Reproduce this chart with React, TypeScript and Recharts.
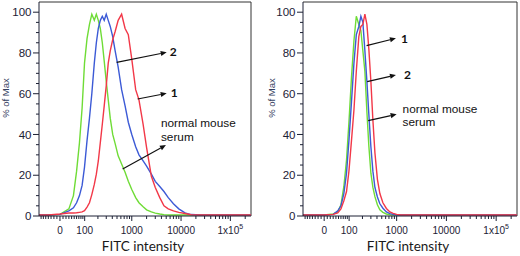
import React from "react";
import { LineChart, Line, XAxis, YAxis, ReferenceLine, Label } from "recharts";

// FITC intensity at the centre of each histogram bin (shared by both panels)
const INTENSITY = [
  -80, -40, 0, 30, 47, 60, 73, 86, 99, 114, 130, 147, 167, 185, 204, 225, 248, 272, 300, 330, 363, 408,
  458, 528, 621, 731, 850, 1000, 1200, 1400, 1700, 2000, 2500, 3000, 3700, 4500, 5500, 7000, 9000,
  12000, 16000, 25000, 60000, 262144,
];

// left panel, % of Max
const LEFT_NORMAL = [
  0.5, 0.5, 0.8, 3.5, 10, 22, 36, 53, 75, 87, 94, 99, 96, 99, 96, 92, 85, 76, 66, 57, 48, 40, 35.5, 29.5,
  25.5, 21.5, 17, 13, 9, 6.5, 4.5, 3, 2, 1.4, 1, 0.7, 0.5, 0.5, 0.5, 0.5, 0.5, 0.5, 0.5, 0.5,
];
const LEFT_SERUM_2 = [
  0.5, 0.5, 0.8, 2.5, 4, 6.5, 10, 15, 24, 37, 48, 60, 75, 85, 92, 96, 98, 96, 99, 96, 93, 88, 81, 73, 62,
  54, 46, 40, 34, 30, 27, 24.5, 20.5, 17, 14.5, 12, 9, 6, 3.5, 1.5, 0.7, 0.5, 0.5, 0.5,
];
const LEFT_SERUM_1 = [
  0.5, 0.5, 1, 1.5, 1.5, 1.6, 1.8, 2, 2.6, 4.4, 6.5, 10.5, 15.5, 20.5, 27, 36, 45, 54, 64, 75, 81, 86.5,
  90.5, 96, 99, 92, 89, 77, 62, 57, 45, 33.5, 19.5, 14, 9, 5, 3.5, 2.5, 1.8, 1.2, 0.6, 0.5, 0.5, 0.5,
];

// right panel, % of Max
const RIGHT_NORMAL = [
  0.5, 0.5, 0.5, 1, 2, 5.5, 14.5, 27.5, 46, 68, 86, 98, 94, 91, 81, 71, 51, 34.5, 21, 14, 9.5, 5.5, 3,
  1.8, 1, 0.6, 0.5, 0.5, 0.5, 0.5, 0.5, 0.5, 0.5, 0.5, 0.5, 0.5, 0.5, 0.5, 0.5, 0.5, 0.5, 0.5, 0.5, 0.5,
];
const RIGHT_SERUM_2 = [
  0.5, 0.5, 0.5, 0.8, 2.5, 5, 11, 21, 37, 56, 75, 89, 93, 98, 95, 81, 66, 50, 34, 22, 14, 9.3, 6, 3.8, 2,
  1.2, 0.8, 0.5, 0.5, 0.5, 0.5, 0.5, 0.5, 0.5, 0.5, 0.5, 0.5, 0.5, 0.5, 0.5, 0.5, 0.5, 0.5, 0.5,
];
const RIGHT_SERUM_1 = [
  0.5, 0.5, 0.5, 0.8, 1.5, 3.5, 7.5, 12, 22, 37, 52, 71, 88, 93, 94, 99, 94, 82, 66, 47, 31, 18, 11, 6.5,
  3.7, 2, 1.3, 0.8, 0.5, 0.5, 0.5, 0.5, 0.5, 0.5, 0.5, 0.5, 0.5, 0.5, 0.5, 0.5, 0.5, 0.5, 0.5, 0.5,
];

const X_MIN = -80;
const X_MAX = 262144;
const X_MAJOR = [0, 100, 1000, 10000, 100000];
const X_LABELS = ["0", "100", "1000", "10000", "1x10^5"];
const Y_TICKS = [0, 5, 10, 15, 20, 25, 30, 35, 40, 45, 50, 55, 60, 65, 70, 75, 80, 85, 90, 95, 100];

// arrows: [intensity, %] from the curve to the label
const LEFT_NOTES = [
  { from: [491, 75.4], to: [5110, 80.3], lines: ["2"], bold: true, dx: 3, dy: -1 },
  { from: [1316, 57.4], to: [5110, 60.2], lines: ["1"], bold: true, dx: 4, dy: -1.5 },
  { from: [652, 23.1], to: [4942, 34.8], lines: ["normal mouse", "serum"], bold: false, dx: -5, dy: -22 },
];
const RIGHT_NOTES = [
  { from: [244, 83.6], to: [967, 87.2], lines: ["1"], bold: true, dx: 5, dy: 0 },
  { from: [251, 65.9], to: [967, 69.2], lines: ["2"], bold: true, dx: 8, dy: -1 },
  { from: [264, 46.8], to: [998, 49.9], lines: ["normal mouse", "serum"], bold: false, dx: 6, dy: -5.5 },
];

// biexponential (arcsinh) display scale like FlowJo's
const COFACTOR = 70;
const toAxis = (v: number) => Math.asinh(v / COFACTOR);

const X_MINOR: number[] = [];
for (let k = 1; k <= 7; k++) X_MINOR.push(-10 * k);
for (let d = 10; d <= 100000; d *= 10) {
  for (let k = 1; k <= 9; k++) {
    const v = d * k;
    if (k === 1 && d >= 100) continue;
    if (v < X_MAX) X_MINOR.push(v);
  }
}
const X_TICKS = [...X_MAJOR, ...X_MINOR].map(toAxis).sort((a, b) => a - b);

const AXIS = "#1c2135";
const GREEN = "#6fdc36";
const BLUE = "#3c5ad6";
const RED = "#f23848";
const NUM_FONT = "'Liberation Sans', Arial, sans-serif";

function XTick({ x, y, payload }: any) {
  const i = X_MAJOR.findIndex((m) => Math.abs(toAxis(m) - payload.value) < 1e-9);
  const major = i >= 0;
  const label = major ? X_LABELS[i] : "";
  const [base, sup] = label.split("^");
  return (
    <g>
      <line x1={x} y1={y} x2={x} y2={y + (major ? 5 : 3)} stroke={AXIS} strokeWidth={1} />
      {major && (
        <text x={x} y={y + 17.5} textAnchor="middle" fontSize={10} fontFamily={NUM_FONT} fill={AXIS}>
          <tspan>{base}</tspan>
          {sup && (
            <tspan dy={-5} fontSize={7}>
              {sup}
            </tspan>
          )}
        </text>
      )}
    </g>
  );
}

function YTick({ x, y, payload }: any) {
  const major = payload.value % 20 === 0;
  return (
    <g>
      <line x1={x} y1={y} x2={x - (major ? 6 : 3)} y2={y} stroke={AXIS} strokeWidth={1} />
      {major && (
        <text x={x - 7.5} y={y} dy="0.36em" textAnchor="end" fontSize={11.5} fontFamily={NUM_FONT} fill={AXIS}>
          {payload.value}
        </text>
      )}
    </g>
  );
}

const arrowShape = (note: any) => (p: any) => {
  const { x1, y1, x2, y2 } = p;
  const ang = Math.atan2(y2 - y1, x2 - x1);
  const len = 6;
  const half = 2.6;
  const bx = x2 - len * Math.cos(ang);
  const by = y2 - len * Math.sin(ang);
  const pts = `${x2},${y2} ${bx - half * Math.sin(ang)},${by + half * Math.cos(ang)} ${bx + half * Math.sin(ang)},${by - half * Math.cos(ang)}`;
  return (
    <g>
      <line x1={x1} y1={y1} x2={bx} y2={by} stroke="#111" strokeWidth={1.2} />
      <polygon points={pts} fill="#111" />
      <text
        y={y2 + note.dy}
        dominantBaseline="central"
        fontSize={note.bold ? 12 : 11.8}
        fontWeight={note.bold ? 700 : 400}
        fontFamily={note.bold ? "Lato, 'Open Sans', sans-serif" : NUM_FONT}
        fill="#111"
      >
        {note.lines.map((t: string, i: number) => (
          <tspan key={i} x={x2 + note.dx} dy={i === 0 ? 0 : 13.5}>
            {t}
          </tspan>
        ))}
      </text>
    </g>
  );
};

const yTitle = (shift: number) => (props: any) => {
  const vb = props.viewBox || { x: 0, y: 2, width: 40, height: 214 };
  const cx = vb.x + shift;
  const cy = vb.y + vb.height / 2 - 11;
  return (
    <text
      x={cx}
      y={cy}
      transform={`rotate(-90, ${cx}, ${cy})`}
      textAnchor="middle"
      dominantBaseline="central"
      fontSize={9.5}
      fontFamily={NUM_FONT}
      fill="#34405e"
    >
      % of Max
    </text>
  );
};

const xTitle = (props: any) => {
  const vb = props.viewBox || { x: 40, y: 216, width: 212, height: 40 };
  return (
    <text
      x={vb.x + vb.width / 2 - 2}
      y={vb.y + 35}
      textAnchor="middle"
      fontSize={13.5}
      fontFamily="Lato, 'Open Sans', sans-serif"
      fill="#1a1a1a"
    >
      FITC intensity
    </text>
  );
};

interface PanelProps {
  normal: number[];
  serum2: number[];
  serum1: number[];
  notes: any[];
  yWidth: number;
  rightGap: number;
  titleShift: number;
}

function Histogram({ normal, serum2, serum1, notes, yWidth, rightGap, titleShift }: PanelProps) {
  const data = INTENSITY.map((v, i) => ({
    x: toAxis(v),
    normal: normal[i],
    serum2: serum2[i],
    serum1: serum1[i],
  }));

  return (
    <LineChart width={260} height={256} data={data} margin={{ top: 2, right: rightGap, bottom: 0, left: 0 }}>
      <XAxis
        dataKey="x"
        type="number"
        domain={[toAxis(X_MIN), toAxis(X_MAX)]}
        allowDataOverflow
        ticks={X_TICKS}
        interval={0}
        tickSize={0}
        tickMargin={0}
        tickLine={false}
        tick={<XTick />}
        axisLine={{ stroke: AXIS, strokeWidth: 1 }}
        height={40}
      >
        <Label content={xTitle} />
      </XAxis>
      <YAxis
        type="number"
        domain={[0, 105]}
        allowDataOverflow
        ticks={Y_TICKS}
        interval={0}
        tickSize={0}
        tickMargin={0}
        tickLine={false}
        tick={<YTick />}
        axisLine={{ stroke: AXIS, strokeWidth: 1 }}
        width={yWidth}
      >
        <Label content={yTitle(titleShift)} />
      </YAxis>
      <ReferenceLine y={105} stroke="#333" strokeWidth={1} />
      <ReferenceLine x={toAxis(X_MAX)} stroke="#333" strokeWidth={1} />
      <Line dataKey="normal" type="linear" stroke={GREEN} strokeWidth={1.4} dot={false} isAnimationActive={false} />
      <Line dataKey="serum2" type="linear" stroke={BLUE} strokeWidth={1.4} dot={false} isAnimationActive={false} />
      <Line dataKey="serum1" type="linear" stroke={RED} strokeWidth={1.4} dot={false} isAnimationActive={false} />
      {notes.map((n, i) => (
        <ReferenceLine
          key={i}
          ifOverflow="visible"
          segment={[
            { x: toAxis(n.from[0]), y: n.from[1] },
            { x: toAxis(n.to[0]), y: n.to[1] },
          ]}
          shape={arrowShape(n)}
        />
      ))}
    </LineChart>
  );
}

export default function App() {
  return (
    <div style={{ position: "absolute", left: 0, top: 0, width: 520, height: 256, display: "flex", background: "#fff" }}>
      <Histogram
        normal={LEFT_NORMAL}
        serum2={LEFT_SERUM_2}
        serum1={LEFT_SERUM_1}
        notes={LEFT_NOTES}
        yWidth={39}
        rightGap={9}
        titleShift={5}
      />
      <Histogram
        normal={RIGHT_NORMAL}
        serum2={RIGHT_SERUM_2}
        serum1={RIGHT_SERUM_1}
        notes={RIGHT_NOTES}
        yWidth={43}
        rightGap={3}
        titleShift={11.5}
      />
    </div>
  );
}
